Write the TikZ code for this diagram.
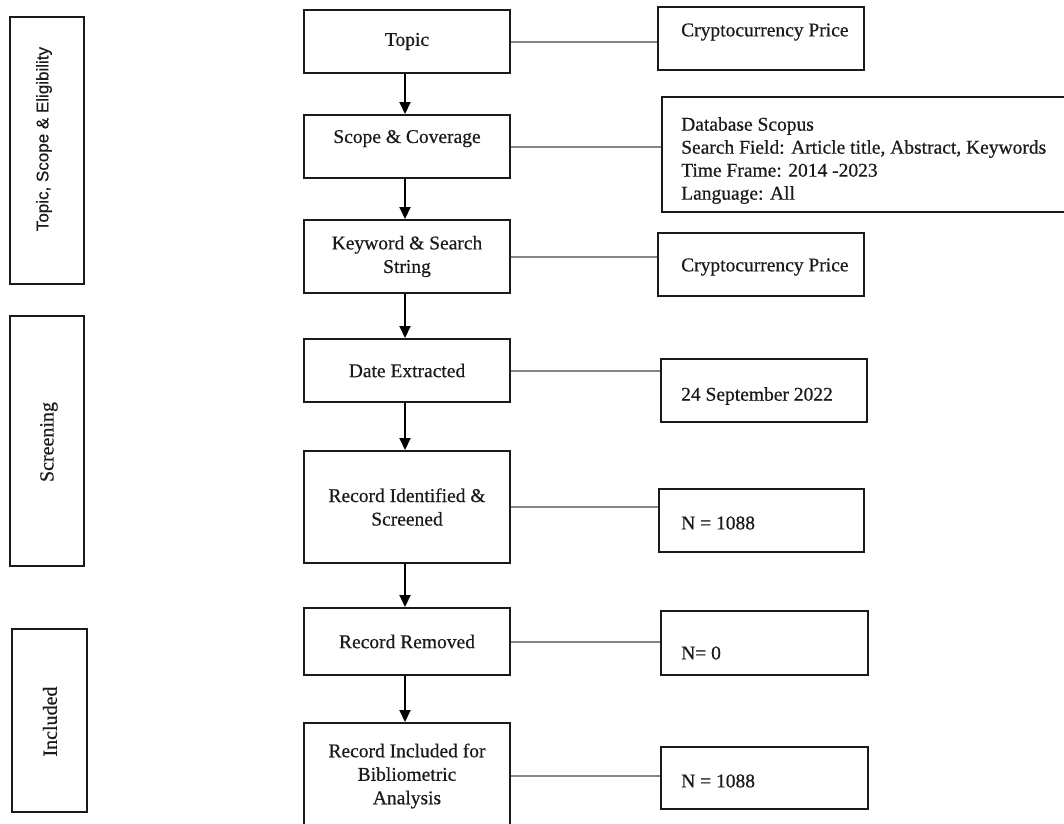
\documentclass[tikz,border=0pt]{standalone}
\usepackage{fontspec}
\setmainfont[FakeBold=0.5]{Liberation Serif}
\newfontfamily\sfont[FakeBold=0.5]{Liberation Sans}
\usetikzlibrary{arrows.meta}
\definecolor{ink}{HTML}{1A1A1A}
\definecolor{conncol}{HTML}{858585}
\begin{document}
\begin{tikzpicture}[x=1pt,y=-1pt,
  box/.style={draw=ink, line width=2pt, inner sep=0pt, fill=white},
  cbox/.style={box, minimum width=206pt, font=\fontsize{19.5}{23.5}\selectfont, align=center, text=ink},
  rbox/.style={box},
  rtext/.style={anchor=west, inner sep=0pt, font=\fontsize{19.5}{23}\selectfont, align=left, text=ink},
  ltext/.style={rotate=90, inner sep=0pt, text=ink},
  conn/.style={draw=conncol, line width=2pt},
  arr/.style={draw=black, line width=2pt, -{Triangle[length=12pt,width=11pt]}}]
\useasboundingbox (0,0) rectangle (1064,823);
\fill[white] (0,0) rectangle (1064,823);

% left stage boxes
\node[box, minimum width=74pt, minimum height=267pt] (ls1) at (47,150.5) {};
\node[ltext, font=\sfont\fontsize{17}{20}\selectfont] (lt1) at (44,139) {Topic, Scope \& Eligibility};
\node[box, minimum width=74pt, minimum height=250pt] (ls2) at (47,441) {};
\node[ltext, font=\fontsize{20}{23}\selectfont] (lt2) at (49,442) {Screening};
\node[box, minimum width=75pt, minimum height=183pt] (ls3) at (49.5,720.5) {};
\node[ltext, font=\fontsize{20}{23}\selectfont] (lt3) at (50,721.5) {Included};

% center boxes
\node[cbox, minimum height=63pt] (c1) at (407,41.5) {Topic};
\node[cbox, minimum height=63pt, text depth=20pt] (c2) at (407,146.5) {Scope \& Coverage};
\node[cbox, minimum height=73pt] (c3) at (407,256.5) {Keyword \& Search\\String};
\node[cbox, minimum height=63pt] (c4) at (407,370.5) {Date Extracted};
\node[cbox, minimum height=112pt] (c5) at (407,507) {Record Identified \&\\Screened};
\node[cbox, minimum height=67pt] (c6) at (407,641.5) {Record Removed};
\node[cbox, minimum height=106pt] (c7) at (407,776) {Record Included for\\Bibliometric\\Analysis};

% right boxes
\node[rbox, minimum width=206pt, minimum height=63pt] (r1) at (761,38.5) {};
\node[rtext] (t1) at (681,32) {Cryptocurrency Price};
\node[rbox, minimum width=406pt, minimum height=115pt] (r2) at (865,154.5) {};
\node[rtext] (t2) at (681,160.5) {Database Scopus\\Search Field: Article title, Abstract, Keywords\\Time Frame: 2014 -2023\\Language: All};
\node[rbox, minimum width=206pt, minimum height=63pt] (r3) at (761,264.5) {};
\node[rtext] (t3) at (681,267) {Cryptocurrency Price};
\node[rbox, minimum width=206pt, minimum height=63pt] (r4) at (764,390.5) {};
\node[rtext] (t4) at (681,396) {24 September 2022};
\node[rbox, minimum width=205pt, minimum height=63pt] (r5) at (761.5,520.5) {};
\node[rtext] (t5) at (681,523) {N = 1088};
\node[rbox, minimum width=207pt, minimum height=64pt] (r6) at (764.5,643) {};
\node[rtext] (t6) at (681,653) {N= 0};
\node[rbox, minimum width=207pt, minimum height=62pt] (r7) at (764.5,778) {};
\node[rtext] (t7) at (681,781) {N = 1088};

% connectors
\foreach \i in {1,...,7}{
  \draw[conn] (c\i.east) -- (c\i.east -| r\i.west);
}
% arrows
\draw[arr] ([xshift=-2pt]c1.south) -- ([xshift=-2pt]c2.north);
\draw[arr] ([xshift=-2pt]c2.south) -- ([xshift=-2pt]c3.north);
\draw[arr] ([xshift=-2pt]c3.south) -- ([xshift=-2pt]c4.north);
\draw[arr] ([xshift=-2pt]c4.south) -- ([xshift=-2pt]c5.north);
\draw[arr] ([xshift=-2pt]c5.south) -- ([xshift=-2pt]c6.north);
\draw[arr] ([xshift=-2pt]c6.south) -- ([xshift=-2pt]c7.north);
\end{tikzpicture}
\end{document}
